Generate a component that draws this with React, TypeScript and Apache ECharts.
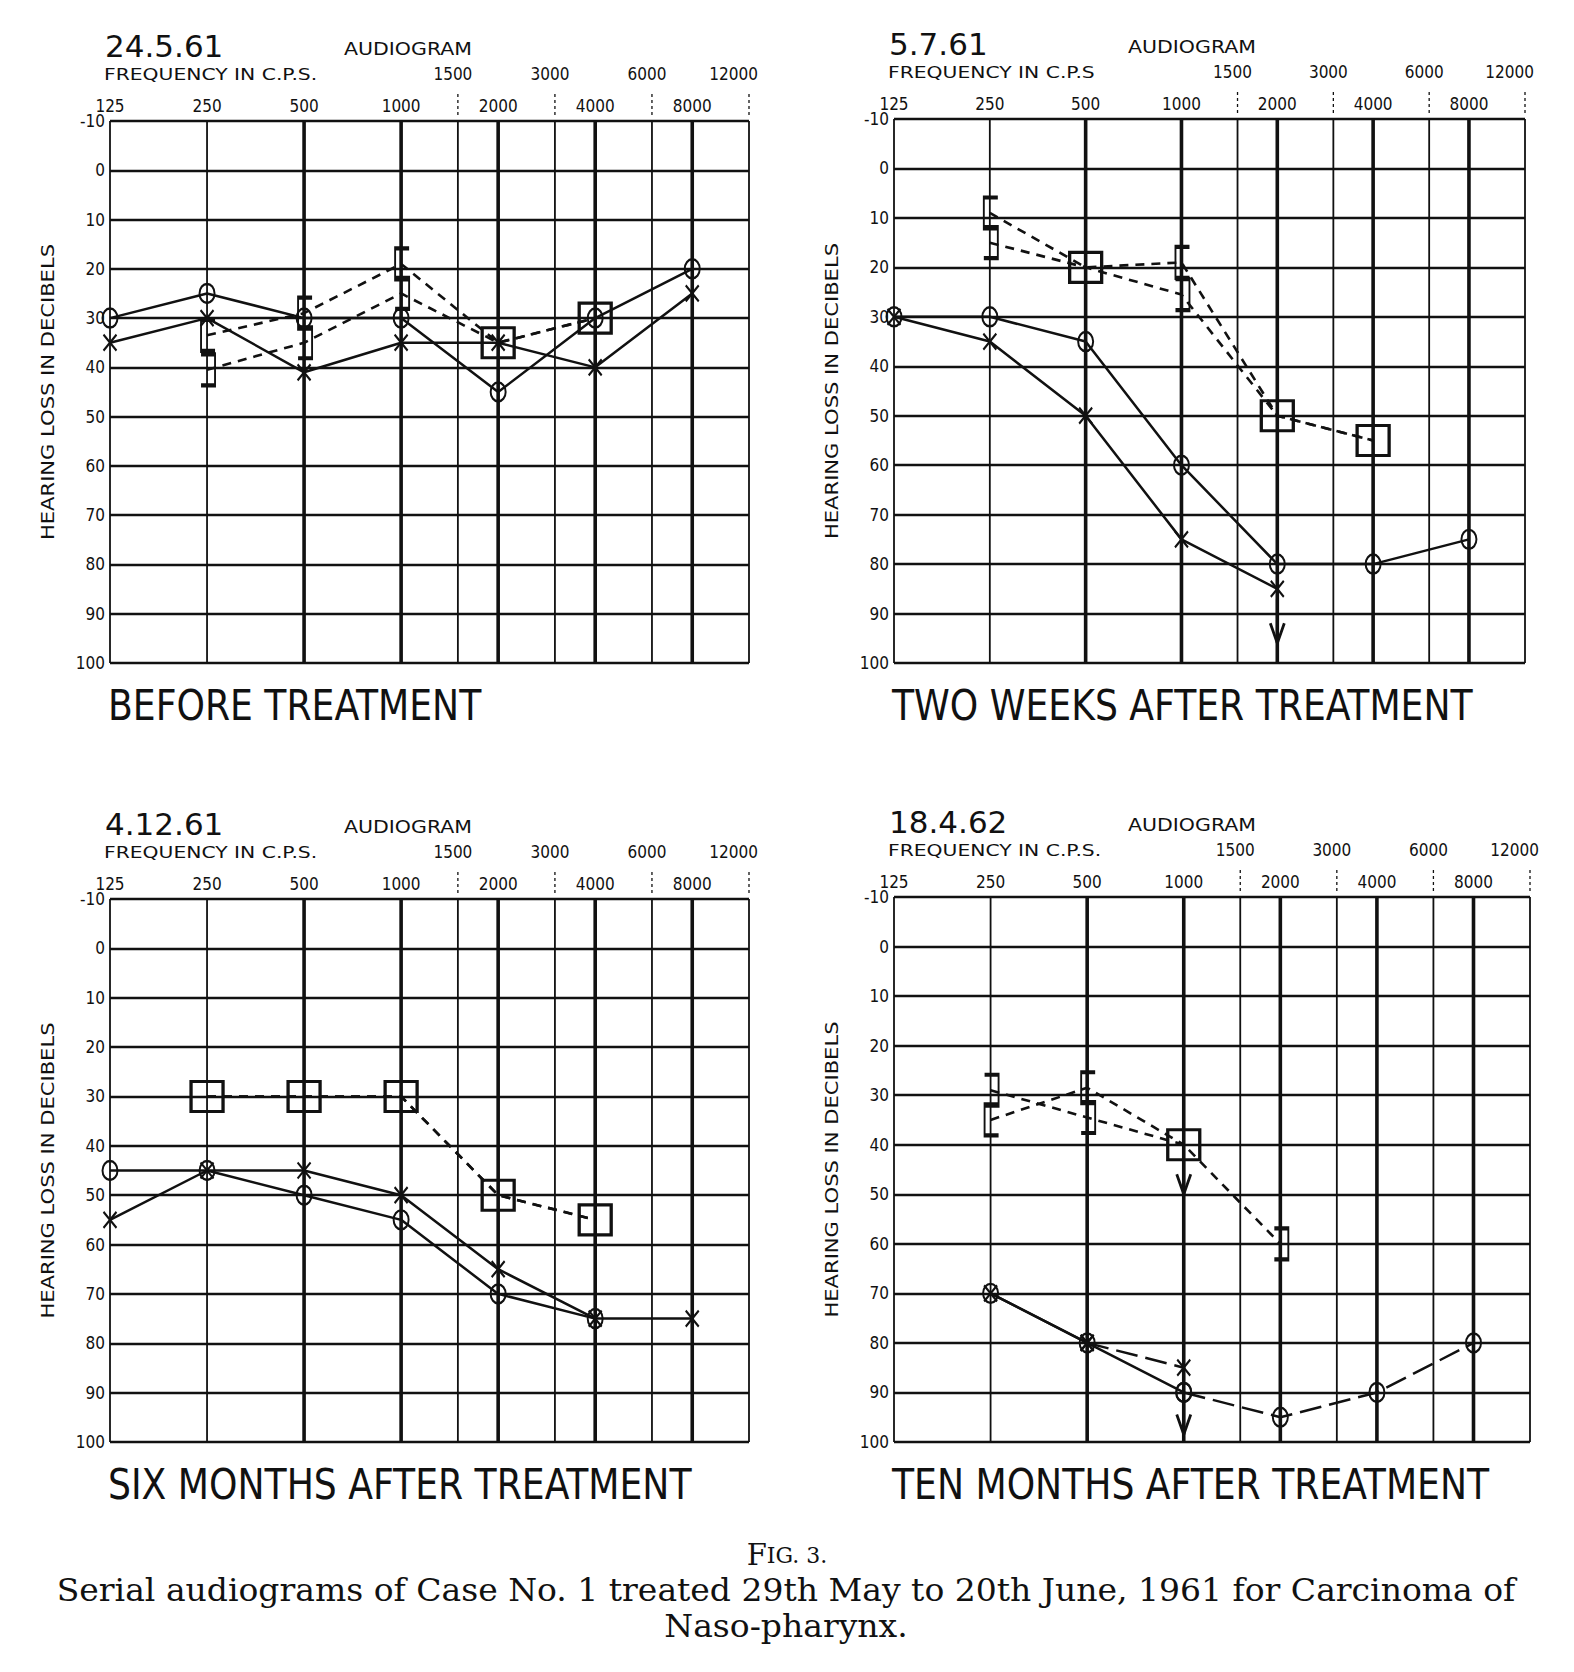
import React, { useEffect, useRef } from "react";
import * as echarts from "echarts";

// ---------- axes / ticks ----------
const FREQS = [125, 250, 500, 1000, 2000, 4000, 8000];
const GRID_FREQS = [125, 250, 500, 1000, 1500, 2000, 3000, 4000, 6000, 8000, 12000];
const LOWER_TICKS = [125, 250, 500, 1000, 2000, 4000, 8000];
const UPPER_TICKS = [1500, 3000, 6000, 12000];
const DB_MIN = -10;
const DB_MAX = 100;
const DB_STEP = 10;

// ---------- texts ----------
const DATES = ["24.5.61", "5.7.61", "4.12.61", "18.4.62"];
const TITLES = [
  "BEFORE TREATMENT",
  "TWO WEEKS AFTER TREATMENT",
  "SIX MONTHS AFTER TREATMENT",
  "TEN MONTHS AFTER TREATMENT",
];
const HEADER = "AUDIOGRAM";
const FREQ_NAMES = ["FREQUENCY IN C.P.S.", "FREQUENCY IN C.P.S", "FREQUENCY IN C.P.S.", "FREQUENCY IN C.P.S."];
const Y_NAME = "HEARING LOSS IN DECIBELS";
const CAPTION_2 = "Serial audiograms of Case No. 1 treated 29th May to 20th June, 1961 for Carcinoma of";
const CAPTION_3 = "Naso-pharynx.";

// ---------- data (dB hearing loss at FREQS) ----------
// Panel 1 – 24.5.61, before treatment
const p1RightAir = [30, 25, 30, 30, 45, 30, 20];
const p1LeftAir = [35, 30, 41, 35, 35, 40, 25];
const p1RightBone = [null, 33.5, 29, 19, 35, 30, null];
const p1LeftBone = [null, 40.5, 35, 25, 35, 30, null];
const p1Arrows: number[][] = [];

// Panel 2 – 5.7.61, two weeks after treatment
const p2RightAir = [30, 30, 35, 60, 80, 80, 75];
const p2LeftAir = [30, 35, 50, 75, 85, null, null];
const p2RightBone = [null, 9, 20, 19, 50, 55, null];
const p2LeftBone = [null, 15, 20, 25.5, 50, 55, null];
const p2Arrows = [[2000, 87, 96]];

// Panel 3 – 4.12.61, six months after treatment
const p3RightAir = [45, 45, 50, 55, 70, 75, null];
const p3LeftAir = [55, 45, 45, 50, 65, 75, 75];
const p3RightBone = [null, 30, 30, 30, 50, 55, null];
const p3LeftBone = [null, 30, 30, 30, 50, 55, null];
const p3Arrows: number[][] = [];

// Panel 4 – 18.4.62, ten months after treatment
const p4RightAir = [null, 70, 80, 90, 95, 90, 80];
const p4LeftAir = [null, 70, 80, 85, null, null, null];
const p4RightBone = [null, 35, 28.5, 40, null, null, null];
const p4LeftBone = [null, 29, 34.5, 40, 60, null, null];
const p4Arrows = [
  [1000, 43, 50],
  [1000, 92, 98.5],
];

const PANELS = [
  { rightAir: p1RightAir, leftAir: p1LeftAir, rightBone: p1RightBone, leftBone: p1LeftBone, arrows: p1Arrows },
  { rightAir: p2RightAir, leftAir: p2LeftAir, rightBone: p2RightBone, leftBone: p2LeftBone, arrows: p2Arrows },
  { rightAir: p3RightAir, leftAir: p3LeftAir, rightBone: p3RightBone, leftBone: p3LeftBone, arrows: p3Arrows },
  { rightAir: p4RightAir, leftAir: p4LeftAir, rightBone: p4RightBone, leftBone: p4LeftBone, arrows: p4Arrows },
];

// ---------- layout / style ----------
const GRIDS = [
  { left: 110, top: 121, width: 639, height: 542 },
  { left: 894, top: 119, width: 631, height: 544 },
  { left: 110, top: 899, width: 639, height: 543 },
  { left: 894, top: 897, width: 636, height: 545 },
];
// frequency from which the air-conduction lines are drawn long-dashed (per panel)
const RIGHT_DASH_FROM = [null, null, null, 1000];
const LEFT_DASH_FROM = [null, null, null, 500];

const INK = "#111111";
const NARROW = "'Liberation Sans Narrow', 'DejaVu Sans Condensed', 'Liberation Sans', sans-serif";
const WIDE = "'DejaVu Sans', 'Liberation Sans', sans-serif";
const SERIF = "'DejaVu Serif', 'Liberation Serif', serif";

const RING = "path://M0,9.5 A7.5,9.5 0 1 1 15,9.5 A7.5,9.5 0 1 1 0,9.5 Z";
const CROSS = "path://M0,0 L13,16 M13,0 L0,16";
const BRACKET_L = "path://M14,0 L0,0 L0,31 L14,31";
const BRACKET_R = "path://M0,0 L14,0 L14,31 L0,31";

const oct = (f: number) => Math.log2(f / 125);

function points(vals: (number | null)[], lo = 0, hi = Infinity) {
  const out: number[][] = [];
  FREQS.forEach((f, i) => {
    const v = vals[i];
    if (v !== null && v !== undefined && f >= lo && f <= hi) out.push([oct(f), v]);
  });
  return out;
}

function bonePoints(own: (number | null)[], other: (number | null)[], isRight: boolean) {
  const out: any[] = [];
  FREQS.forEach((f, i) => {
    const v = own[i];
    if (v === null || v === undefined) return;
    const square = other[i] !== null && other[i] === v;
    if (square) {
      out.push({
        value: [oct(f), v],
        symbol: isRight ? "rect" : "none",
        symbolSize: [32, 30],
        symbolOffset: [0, 0],
        itemStyle: { borderWidth: 3.2 },
      });
    } else {
      out.push({
        value: [oct(f), v],
        symbol: isRight ? BRACKET_L : BRACKET_R,
        symbolSize: [14, 31],
        symbolOffset: [1, 0],
      });
    }
  });
  return out;
}

function lowerLabel(v: number) {
  const f = 125 * Math.pow(2, v);
  const m = LOWER_TICKS.find((t) => Math.abs(t - f) < 1);
  return m ? String(m) : "";
}

function airSeries(i: number, vals: (number | null)[], dashFrom: number | null, symbol: string, size: number[]) {
  const base = {
    type: "line",
    xAxisIndex: i,
    yAxisIndex: i,
    silent: true,
    z: 4,
    symbol,
    symbolSize: size,
    itemStyle: { color: "transparent", borderColor: INK, borderWidth: 2.2 },
    emphasis: { disabled: true },
  };
  if (dashFrom === null) {
    return [{ ...base, data: points(vals), lineStyle: { color: INK, width: 2.5 } }];
  }
  return [
    { ...base, data: points(vals, 0, dashFrom), lineStyle: { color: INK, width: 2.5 } },
    { ...base, data: points(vals, dashFrom), lineStyle: { color: INK, width: 2.5, type: [22, 8] } },
  ];
}

function buildOption() {
  const grid = GRIDS.map((g) => ({ ...g, containLabel: false }));
  const xAxis = GRIDS.map((_, i) => ({
    type: "value",
    gridIndex: i,
    position: "top",
    min: 0,
    max: oct(12000),
    interval: 1,
    axisLine: { show: false },
    axisTick: { show: false },
    splitLine: { show: false },
    axisLabel: { show: true, margin: 7, fontSize: 17, color: INK, fontFamily: NARROW, formatter: lowerLabel },
  }));
  const yAxis = GRIDS.map((_, i) => ({
    type: "value",
    gridIndex: i,
    inverse: true,
    min: DB_MIN,
    max: DB_MAX,
    interval: DB_STEP,
    axisLine: { show: false },
    axisTick: { show: false },
    axisLabel: { fontSize: 17, color: INK, fontFamily: NARROW, margin: 5 },
    splitLine: { show: true, lineStyle: { color: INK, width: 2.4 } },
  }));

  const series: any[] = [];
  PANELS.forEach((p, i) => {
    // vertical grid lines
    series.push({
      type: "custom",
      xAxisIndex: i,
      yAxisIndex: i,
      silent: true,
      clip: false,
      z: 1,
      data: GRID_FREQS.map((f) => [oct(f), f]),
      renderItem: (params: any, api: any) => {
        const x = api.value(0);
        const f = api.value(1);
        const a = api.coord([x, DB_MIN]);
        const b = api.coord([x, DB_MAX]);
        const thick = FREQS.indexOf(f) >= 0 && f >= 500;
        const children: any[] = [
          {
            type: "line",
            shape: { x1: a[0], y1: a[1], x2: b[0], y2: b[1] },
            style: { stroke: INK, lineWidth: thick ? 3.6 : 1.8 },
          },
        ];
        if (UPPER_TICKS.indexOf(f) >= 0) {
          children.push({
            type: "line",
            shape: { x1: a[0], y1: a[1] - 27, x2: a[0], y2: a[1] - 6 },
            style: { stroke: INK, lineWidth: 1.3, lineDash: [3, 3] },
          });
        }
        return { type: "group", children };
      },
    });
    // upper frequency labels
    series.push({
      type: "custom",
      xAxisIndex: i,
      yAxisIndex: i,
      silent: true,
      clip: false,
      z: 2,
      data: UPPER_TICKS.map((f) => [oct(f), f]),
      renderItem: (params: any, api: any) => {
        const f = api.value(1);
        const a = api.coord([api.value(0), DB_MIN]);
        const last = f === UPPER_TICKS[UPPER_TICKS.length - 1];
        return {
          type: "text",
          x: last ? a[0] + 9 : a[0] - 5,
          y: a[1] - 47,
          style: {
            text: String(f),
            fill: INK,
            fontSize: 17,
            fontFamily: NARROW,
            align: last ? "right" : "center",
            verticalAlign: "middle",
          },
        };
      },
    });
    // right ear air conduction (O) and left ear air conduction (X)
    airSeries(i, p.rightAir, RIGHT_DASH_FROM[i], RING, [15, 19]).forEach((s) => series.push(s));
    airSeries(i, p.leftAir, LEFT_DASH_FROM[i], CROSS, [13, 16]).forEach((s) => series.push(s));
    // right bone conduction [
    series.push({
      type: "line",
      xAxisIndex: i,
      yAxisIndex: i,
      silent: true,
      z: 3,
      data: bonePoints(p.rightBone, p.leftBone, true),
      itemStyle: { color: "transparent", borderColor: INK, borderWidth: 2.8 },
      lineStyle: { color: INK, width: 2.6, type: [9, 7] },
      emphasis: { disabled: true },
    });
    // left bone conduction ]
    series.push({
      type: "line",
      xAxisIndex: i,
      yAxisIndex: i,
      silent: true,
      z: 3,
      data: bonePoints(p.leftBone, p.rightBone, false),
      itemStyle: { color: "transparent", borderColor: INK, borderWidth: 2.8 },
      lineStyle: { color: INK, width: 2.6, type: [9, 7] },
      emphasis: { disabled: true },
    });
    // arrows (no response)
    series.push({
      type: "custom",
      xAxisIndex: i,
      yAxisIndex: i,
      silent: true,
      clip: false,
      z: 5,
      data: p.arrows.map((a) => [oct(a[0]), a[1], a[2]]),
      renderItem: (params: any, api: any) => {
        const a = api.coord([api.value(0), api.value(1)]);
        const b = api.coord([api.value(0), api.value(2)]);
        return {
          type: "group",
          children: [
            { type: "line", shape: { x1: a[0], y1: a[1], x2: b[0], y2: b[1] }, style: { stroke: INK, lineWidth: 2.8 } },
            {
              type: "polyline",
              shape: { points: [[b[0] - 7, b[1] - 20], [b[0], b[1]], [b[0] + 7, b[1] - 20]] },
              style: { stroke: INK, lineWidth: 2.8, fill: "none" },
            },
          ],
        };
      },
    });
  });

  const graphic: any[] = [];
  GRIDS.forEach((g, i) => {
    graphic.push({
      type: "text",
      x: g.left - 5,
      y: g.top - 75,
      style: { text: DATES[i], fill: INK, fontSize: 31, fontFamily: WIDE, align: "left", verticalAlign: "middle" },
    });
    graphic.push({
      type: "text",
      x: g.left + 298,
      y: g.top - 72,
      scaleX: 1.14,
      style: { text: HEADER, fill: INK, fontSize: 18, fontFamily: WIDE, align: "center", verticalAlign: "middle" },
    });
    graphic.push({
      type: "text",
      x: g.left - 6,
      y: g.top - 47,
      scaleX: 1.27,
      style: { text: FREQ_NAMES[i], fill: INK, fontSize: 16, fontFamily: WIDE, align: "left", verticalAlign: "middle" },
    });
    graphic.push({
      type: "text",
      x: g.left - 62,
      y: g.top + g.height / 2,
      rotation: Math.PI / 2,
      scaleX: 1.24,
      style: { text: Y_NAME, fill: INK, fontSize: 17, fontFamily: WIDE, align: "center", verticalAlign: "middle" },
    });
    graphic.push({
      type: "text",
      x: g.left - 2,
      y: g.top + g.height + 42,
      scaleX: 0.935,
      style: { text: TITLES[i], fill: INK, fontSize: 43, fontFamily: NARROW, align: "left", verticalAlign: "middle" },
    });
  });
  graphic.push({
    type: "text",
    x: 787,
    y: 1555,
    style: {
      text: "{a|F}{b|IG. 3.}",
      align: "center",
      verticalAlign: "middle",
      fill: INK,
      rich: {
        a: { fontSize: 29, fontFamily: SERIF, fill: INK },
        b: { fontSize: 22, fontFamily: SERIF, fill: INK },
      },
    },
  });
  graphic.push({
    type: "text",
    x: 786,
    y: 1590,
    scaleX: 1.065,
    style: { text: CAPTION_2, fill: INK, fontSize: 31, fontFamily: SERIF, align: "center", verticalAlign: "middle" },
  });
  graphic.push({
    type: "text",
    x: 786,
    y: 1626,
    scaleX: 1.065,
    style: { text: CAPTION_3, fill: INK, fontSize: 31, fontFamily: SERIF, align: "center", verticalAlign: "middle" },
  });

  return {
    animation: false,
    backgroundColor: "#ffffff",
    grid,
    xAxis,
    yAxis,
    series,
    graphic,
  };
}

export default function App() {
  const ref = useRef<HTMLDivElement>(null);
  useEffect(() => {
    document.body.style.margin = "0";
    const chart = echarts.init(ref.current as HTMLDivElement, null, { renderer: "svg" });
    chart.setOption(buildOption() as any);
    return () => chart.dispose();
  }, []);
  return <div ref={ref} style={{ width: 1574, height: 1672, background: "#fff" }} />;
}
